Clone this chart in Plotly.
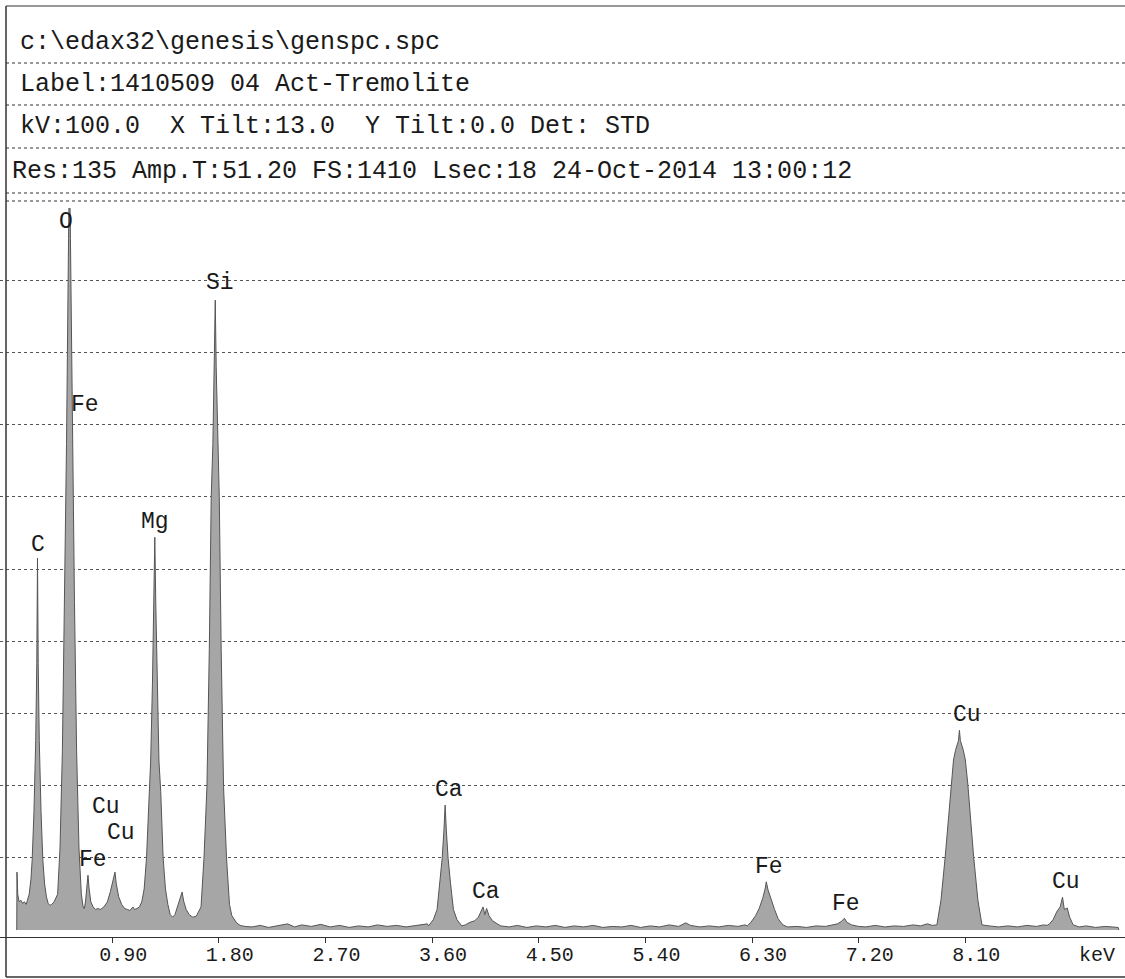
import plotly.graph_objects as go

# ---------------- data ----------------
header_lines = [
    r"c:\edax32\genesis\genspc.spc",
    "Label:1410509 04 Act-Tremolite",
    "kV:100.0\u00a0\u00a0X Tilt:13.0\u00a0\u00a0Y Tilt:0.0 Det: STD",
    "Res:135 Amp.T:51.20 FS:1410 Lsec:18 24-Oct-2014 13:00:12",
]

# spectrum, low-energy part (C, O, Fe L, Cu L, Mg, Al, Si)
low_kev = [0.095, 0.097, 0.103, 0.115, 0.13, 0.145, 0.16, 0.175,
           0.185, 0.2, 0.215, 0.225, 0.24, 0.255, 0.264, 0.27, 0.276, 0.285, 0.30, 0.315, 0.33, 0.345, 0.36, 0.375, 0.39,
           0.41, 0.44, 0.46, 0.48, 0.498, 0.515, 0.532, 0.54, 0.548, 0.565, 0.582, 0.60, 0.62, 0.64, 0.655, 0.665,
           0.675, 0.685, 0.696, 0.705, 0.72, 0.74, 0.76, 0.78,
           0.80, 0.83, 0.86, 0.885, 0.905, 0.924, 0.935, 0.955, 0.98, 1.005, 1.03, 1.05, 1.075, 1.09, 1.11,
           1.13, 1.15, 1.17, 1.19, 1.21, 1.225, 1.24, 1.252, 1.26, 1.268, 1.28, 1.295, 1.31, 1.33, 1.35, 1.37, 1.39, 1.41,
           1.43, 1.45, 1.47, 1.49, 1.505, 1.525, 1.55, 1.58, 1.61,
           1.65, 1.675, 1.70, 1.72, 1.736, 1.75, 1.762, 1.77, 1.778, 1.79, 1.804, 1.82, 1.84, 1.865, 1.89, 1.91, 1.93, 1.95, 1.98, 2.02]
low_counts = [0, 113, 70, 55, 58, 52, 55, 50,
              58, 70, 100, 137, 230, 370, 520, 726, 520, 370, 230, 137, 90, 65, 52, 48, 50,
              55, 70, 160, 350, 640, 950, 1350, 1500, 1350, 950, 640, 350, 160, 70, 45, 42,
              55, 80, 107, 82, 55, 45, 40, 42,
              40, 45, 55, 75, 95, 113, 90, 65, 50, 42, 40, 38, 45, 40, 42,
              45, 55, 80, 141, 270, 330, 480, 640, 767, 640, 480, 330, 270, 141, 80, 50, 30, 25,
              30, 45, 60, 74, 55, 40, 30, 25, 27,
              45, 141, 280, 550, 846, 950, 1100, 1230, 1100, 950, 846, 550, 280, 141, 50, 28, 20, 14, 9, 7]

# spectrum, middle part (background, Ca K-alpha, Ca K-beta)
mid_kev = [2.08, 2.15, 2.22, 2.3, 2.38, 2.44, 2.5, 2.58, 2.66, 2.74, 2.82, 2.9, 2.98, 3.06, 3.14, 3.22, 3.3, 3.38, 3.46, 3.52, 3.56,
           3.57, 3.61, 3.642, 3.665, 3.685, 3.70, 3.71, 3.72, 3.735, 3.755, 3.78, 3.81, 3.85,
           3.88, 3.92, 3.96, 3.99, 4.01, 4.03, 4.045, 4.06, 4.08, 4.11, 4.15, 4.18]
mid_counts = [6, 9, 5, 8, 12, 6, 10, 7, 11, 6, 9, 5, 8, 6, 10, 7, 9, 6, 8, 10, 12,
              8, 20, 40, 92, 140, 195, 244, 195, 140, 92, 40, 20, 8,
              10, 15, 18, 25, 35, 45, 30, 42, 28, 18, 12, 8]

# spectrum, high-energy part (Fe K, Cu K)
high_kev = [4.25, 4.32, 4.4, 4.48, 4.56, 4.64, 4.72, 4.8, 4.88, 4.96, 5.04, 5.12, 5.2, 5.28, 5.36, 5.44, 5.52, 5.6, 5.68, 5.74, 5.78, 5.86, 5.94, 6.02, 6.1, 6.18, 6.24,
            6.26, 6.29, 6.33, 6.36, 6.39, 6.41, 6.42, 6.435, 6.46, 6.49, 6.52, 6.56, 6.6,
            6.68, 6.76, 6.84, 6.92, 6.98,
            7.02, 7.05, 7.08, 7.1, 7.14, 7.2,
            7.26, 7.34, 7.42, 7.5, 7.58, 7.66, 7.72, 7.78, 7.82,
            7.86, 7.894, 7.93, 7.955, 7.98, 8.0, 8.017, 8.042, 8.05, 8.058, 8.083, 8.1, 8.12, 8.145, 8.17, 8.206, 8.24,
            8.3, 8.38, 8.46, 8.54, 8.62, 8.7, 8.76, 8.79,
            8.81, 8.84, 8.87, 8.9, 8.92, 8.935, 8.96, 8.98, 9.01,
            9.06, 9.12, 9.2, 9.28, 9.35, 9.39, 9.395]
high_counts = [6, 9, 5, 8, 6, 9, 5, 8, 6, 9, 5, 7, 6, 9, 5, 8, 6, 10, 7, 14, 9, 6, 8, 6, 9, 7, 10,
               8, 15, 28, 42, 62, 80, 94, 78, 60, 40, 22, 10, 6,
               7, 5, 8, 7, 10,
               12, 16, 23, 15, 10, 7,
               6, 9, 6, 8, 7, 10, 8, 12, 9,
               10, 58, 143, 210, 287, 332, 351, 370, 390, 370, 351, 332, 287, 210, 143, 58, 10,
               8, 6, 8, 6, 9, 7, 10, 9,
               12, 20, 35, 45, 64, 40, 43, 25, 10,
               6, 8, 5, 7, 6, 5, 0]

# peak labels
label_text = ["O", "Fe", "C", "Mg", "Si", "Cu", "Cu", "Fe", "Ca", "Ca", "Fe", "Fe", "Cu", "Cu"]
label_kev = [0.51, 0.67, 0.27, 1.26, 1.81, 0.85, 0.975, 0.74, 3.74, 4.055, 6.44, 7.09, 8.11, 8.95]
label_counts = [1383, 1025, 752, 797, 1264, 240, 189, 137, 273, 74, 123, 51, 420, 94]

tick_vals = [0.9, 1.8, 2.7, 3.6, 4.5, 5.4, 6.3, 7.2, 8.1]
tick_text = ["0.90", "1.80", "2.70", "3.60", "4.50", "5.40", "6.30", "7.20", "8.10"]
full_scale = 1410
grid_vals = [141 * i for i in range(1, 11)]

energy = low_kev + mid_kev + high_kev
counts = low_counts + mid_counts + high_counts

# ---------------- layout helpers ----------------
W, H = 1125, 979
TOP, BOT = 208, 937          # plot area pixel rows
MONO = "Liberation Mono, Courier New, monospace"


def px(x):
    return x / W


def py(y):
    return (BOT - y) / (BOT - TOP)


fig = go.Figure()
fig.add_trace(go.Scatter(
    x=energy, y=counts, mode="lines", fill="tozeroy",
    fillcolor="#a6a6a6", line=dict(color="#555555", width=1),
    hoverinfo="skip", showlegend=False,
))

for t, e, c in zip(label_text, label_kev, label_counts):
    fig.add_annotation(x=e, y=c, text=t, showarrow=False,
                       font=dict(family=MONO, size=23, color="#1a1a1a"),
                       xanchor="center", yanchor="middle")

shapes = []
# header box lines
for y in [6, 63, 105, 148, 193, 201]:
    shapes.append(dict(type="line", xref="paper", yref="paper", x0=px(6), x1=1, y0=py(y), y1=py(y),
                       line=dict(color="#333", width=1.2, dash="solid" if y == 6 else "dot")))
# left frame and bottom frame
shapes.append(dict(type="line", xref="paper", yref="paper", x0=px(6), x1=px(6), y0=py(6), y1=py(977),
                   line=dict(color="#333", width=1.5)))
shapes.append(dict(type="line", xref="paper", yref="paper", x0=px(6), x1=1, y0=py(977), y1=py(977),
                   line=dict(color="#333", width=1.5)))

header_pos = [(18, 42), (18, 84), (18, 127), (10, 171)]
for txt, (x, y) in zip(header_lines, header_pos):
    fig.add_annotation(xref="paper", yref="paper", x=px(x), y=py(y), text=txt, showarrow=False,
                       xanchor="left", yanchor="middle",
                       font=dict(family=MONO, size=25, color="#1a1a1a"))

fig.add_annotation(xref="paper", yref="paper", x=px(1097), y=py(955), text="keV", showarrow=False,
                   xanchor="center", yanchor="middle",
                   font=dict(family=MONO, size=20, color="#1a1a1a"))

x0 = -5.5 / 118.5
x1 = (W - 5.5) / 118.5
y0 = -(BOT - 930) * full_scale / (930 - TOP)

fig.update_layout(
    width=W, height=H,
    margin=dict(l=0, r=0, t=TOP, b=H - BOT),
    paper_bgcolor="white", plot_bgcolor="white",
    shapes=shapes,
    xaxis=dict(range=[x0, x1], tickvals=tick_vals, ticktext=tick_text,
               ticks="outside", ticklen=5, tickcolor="#333",
               showline=True, linecolor="#333", linewidth=1,
               showgrid=False, zeroline=False, ticklabelshift=11, ticklabelstandoff=-6,
               tickfont=dict(family=MONO, size=20, color="#1a1a1a")),
    yaxis=dict(range=[y0, full_scale], tickvals=grid_vals, showticklabels=False,
               showgrid=True, gridcolor="#555", griddash="dot", gridwidth=1,
               zeroline=False, showline=False),
)

fig.write_html("out.html", config={"displayModeBar": False},
               post_script="document.body.style.margin='0';document.body.style.overflow='hidden';")
